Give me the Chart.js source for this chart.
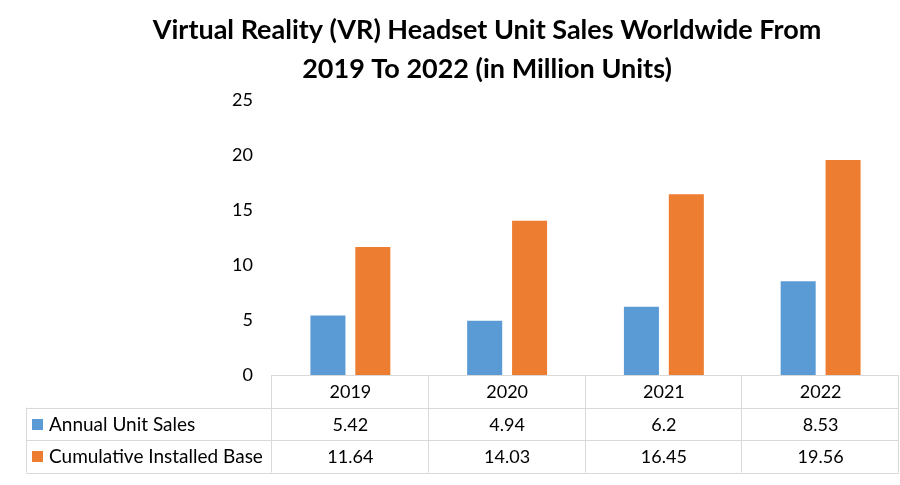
<!DOCTYPE html>
<html>
<head>
<meta charset="utf-8">
<script src="https://cdn.jsdelivr.net/npm/chart.js@4/dist/chart.umd.min.js"></script>
<style>
  body { margin: 0; background: #fff; }
  #wrap { width: 900px; height: 485px; }
</style>
</head>
<body>
<div id="wrap"><canvas id="grafico"></canvas></div>
<script>
const anos = ["2019", "2020", "2021", "2022"];
const vendasAnuais = [5.42, 4.94, 6.2, 8.53];
const baseInstalada = [11.64, 14.03, 16.45, 19.56];
const nomesSeries = ["Annual Unit Sales", "Cumulative Installed Base"];
const coresSeries = ["#5B9BD5", "#ED7D31"];
const fonte = "'Lato', 'Open Sans', sans-serif";

// desenha a tabela de dados abaixo do grafico (estilo Excel)
const tabelaDados = {
  id: "tabelaDados",
  afterDraw(chart) {
    const ctx = chart.ctx;
    const x = chart.scales.x;
    const area = chart.chartArea;
    const largura = (area.right - area.left) / anos.length;
    const alturaLinha = 32.5;
    const esquerda = 26;
    const topo = area.bottom;

    ctx.save();
    ctx.strokeStyle = "#D9D9D9";
    ctx.lineWidth = 1;
    ctx.beginPath();
    // linhas horizontais
    ctx.moveTo(area.left, topo + 0.5);
    ctx.lineTo(area.right, topo + 0.5);
    for (let r = 1; r <= 3; r++) {
      const y = Math.round(topo + r * alturaLinha) + 0.5;
      ctx.moveTo(esquerda, y);
      ctx.lineTo(area.right, y);
    }
    // linhas verticais
    for (let c = 0; c <= anos.length; c++) {
      const xv = Math.round(area.left + c * largura) - 0.5;
      ctx.moveTo(xv, topo);
      ctx.lineTo(xv, topo + 3 * alturaLinha);
    }
    ctx.moveTo(esquerda + 0.5, topo + alturaLinha);
    ctx.lineTo(esquerda + 0.5, topo + 3 * alturaLinha);
    ctx.stroke();

    ctx.fillStyle = "#000";
    ctx.font = "18px " + fonte;
    ctx.textAlign = "center";
    ctx.textBaseline = "middle";
    const series = [vendasAnuais, baseInstalada];
    anos.forEach((ano, i) => {
      const cx = x.getPixelForValue(i);
      ctx.fillText(ano, cx, topo + alturaLinha / 2 + 1);
      series.forEach((s, j) => {
        ctx.fillText(String(s[i]), cx, topo + (j + 1.5) * alturaLinha + 1);
      });
    });

    ctx.textAlign = "left";
    ctx.font = "19px " + fonte;
    nomesSeries.forEach((nome, j) => {
      const yc = topo + (j + 1.5) * alturaLinha;
      ctx.fillStyle = coresSeries[j];
      ctx.fillRect(32, Math.round(yc - 5), 11, 11);
      ctx.fillStyle = "#000";
      ctx.fillText(nome, 49, yc + 1);
    });
    ctx.restore();
  },
};

new Chart(document.getElementById("grafico"), {
  type: "bar",
  data: {
    labels: anos,
    datasets: [
      {
        label: nomesSeries[0],
        data: vendasAnuais,
        backgroundColor: coresSeries[0],
        barPercentage: 0.78,
        categoryPercentage: 0.573,
      },
      {
        label: nomesSeries[1],
        data: baseInstalada,
        backgroundColor: coresSeries[1],
        barPercentage: 0.78,
        categoryPercentage: 0.573,
      },
    ],
  },
  options: {
    responsive: true,
    maintainAspectRatio: false,
    animation: false,
    layout: {
      padding: { left: 75, right: 1, top: 0, bottom: 110 },
    },
    plugins: {
      legend: { display: false },
      tooltip: { enabled: false },
      title: {
        display: true,
        text: [
          "Virtual Reality (VR) Headset Unit Sales Worldwide From",
          "2019 To 2022 (in Million Units)",
        ],
        color: "#000",
        font: { family: fonte, size: 27, weight: "bold", lineHeight: 1.45 },
        padding: { top: 11, bottom: 11 },
      },
    },
    scales: {
      x: { display: false },
      y: {
        min: 0,
        max: 25,
        ticks: {
          stepSize: 5,
          color: "#000",
          padding: 11,
          font: { family: fonte, size: 18 },
        },
        grid: { display: false },
        border: { display: false },
        afterFit(escala) {
          escala.width = 197;
        },
      },
    },
  },
  plugins: [tabelaDados],
});
</script>
</body>
</html>
